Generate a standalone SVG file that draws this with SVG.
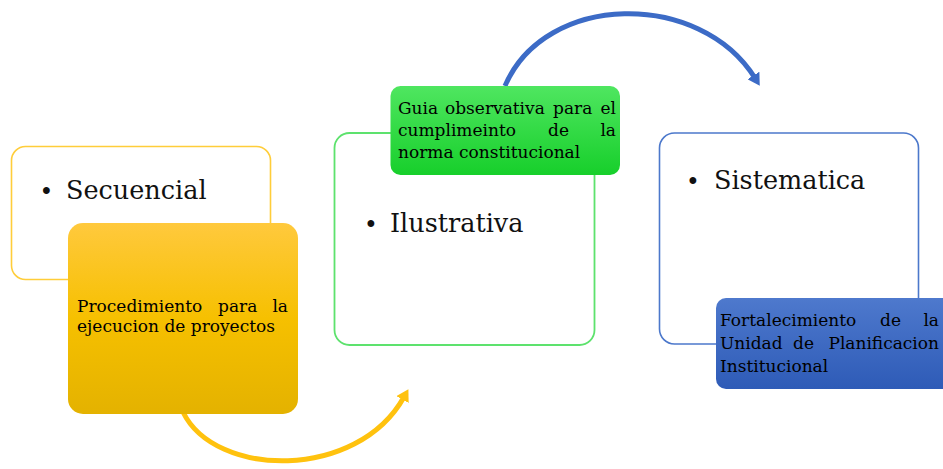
<svg xmlns="http://www.w3.org/2000/svg" width="943" height="469" viewBox="0 0 943 469">
<style>
  .big { font-family: "DejaVu Serif", "Liberation Serif", serif; font-size: 25.5px; fill: #111; }
  .bul { font-family: "Liberation Sans", sans-serif; font-size: 25px; fill: #111; }
  .sm { font-family: "DejaVu Serif", "Liberation Serif", serif; font-size: 17px; fill: #000; }
  .conn { fill: none; stroke-width: 5; stroke-linecap: butt; }
</style>
<defs>
  <linearGradient id="gy" x1="0" y1="0" x2="0" y2="1">
    <stop offset="0" stop-color="#FFC93D"/>
    <stop offset="0.5" stop-color="#F6C000"/>
    <stop offset="1" stop-color="#E4B200"/>
  </linearGradient>
  <linearGradient id="gg" x1="0" y1="0" x2="0" y2="1">
    <stop offset="0" stop-color="#4FE660"/>
    <stop offset="1" stop-color="#17CF2B"/>
  </linearGradient>
  <linearGradient id="gb" x1="0" y1="0" x2="0" y2="1">
    <stop offset="0" stop-color="#4E79CD"/>
    <stop offset="1" stop-color="#2E5BB7"/>
  </linearGradient>
  <marker id="ay" viewBox="0 0 12 14" markerWidth="12" markerHeight="14" refX="3" refY="7" orient="auto" markerUnits="userSpaceOnUse">
    <path d="M0,0 L12,7 L0,14 z" fill="#FFC20E"/>
  </marker>
  <marker id="ab" viewBox="0 0 12 14" markerWidth="12" markerHeight="14" refX="3" refY="7" orient="auto" markerUnits="userSpaceOnUse">
    <path d="M0,0 L12,7 L0,14 z" fill="#3C6BC6"/>
  </marker>
</defs>
<rect width="943" height="469" fill="#fff"/>

<g id="node-secuencial">
  <rect x="11.5" y="146.5" width="259" height="133" rx="14" fill="#fff" stroke="#FFCD3A" stroke-width="1.6"/>
  <text y="199"><tspan class="bul" x="46.5" text-anchor="middle">•</tspan><tspan class="big" x="66">Secuencial</tspan></text>
</g>
<g id="node-ilustrativa">
  <rect x="334.5" y="133" width="260" height="212" rx="15" fill="#fff" stroke="#5DE26D" stroke-width="1.8"/>
  <text y="232"><tspan class="bul" x="371" text-anchor="middle">•</tspan><tspan class="big" x="390">Ilustrativa</tspan></text>
</g>
<g id="node-sistematica">
  <rect x="659.5" y="133" width="259" height="211" rx="15" fill="#fff" stroke="#4C78CB" stroke-width="1.6"/>
  <text y="189"><tspan class="bul" x="693" text-anchor="middle">•</tspan><tspan class="big" x="714">Sistematica</tspan></text>
</g>

<g id="connectors">
  <path class="conn" d="M183,412 C215,478 357,481 404,397" stroke="#FFC20E" marker-end="url(#ay)"/>
  <path class="conn" d="M505,86 C545,-8 700,-10 755,78" stroke="#3C6BC6" marker-end="url(#ab)"/>
</g>

<g id="node-procedimiento">
  <rect x="68" y="223" width="230" height="191" rx="15" fill="url(#gy)"/>
  <text class="sm" y="312"><tspan x="77">Procedimiento</tspan><tspan x="218">para</tspan><tspan x="288" text-anchor="end">la</tspan></text>
  <text class="sm" x="77" y="332">ejecucion de proyectos</text>
</g>
<g id="node-guia">
  <rect x="390.5" y="86" width="229.5" height="89" rx="10" fill="url(#gg)"/>
  <text class="sm" y="114"><tspan x="398">Guia</tspan><tspan x="445">observativa</tspan><tspan x="553">para</tspan><tspan x="616" text-anchor="end">el</tspan></text>
  <text class="sm" y="136"><tspan x="398">cumplimeinto</tspan><tspan x="548">de</tspan><tspan x="616" text-anchor="end">la</tspan></text>
  <text class="sm" x="398" y="158">norma constitucional</text>
</g>
<g id="node-fortalecimiento">
  <rect x="716" y="298" width="240" height="91" rx="10" fill="url(#gb)"/>
  <text class="sm" y="326"><tspan x="720">Fortalecimiento</tspan><tspan x="880">de</tspan><tspan x="939" text-anchor="end">la</tspan></text>
  <text class="sm" y="349"><tspan x="720">Unidad</tspan><tspan x="793">de</tspan><tspan x="939" text-anchor="end">Planificacion</tspan></text>
  <text class="sm" x="720" y="372">Institucional</text>
</g>
</svg>
